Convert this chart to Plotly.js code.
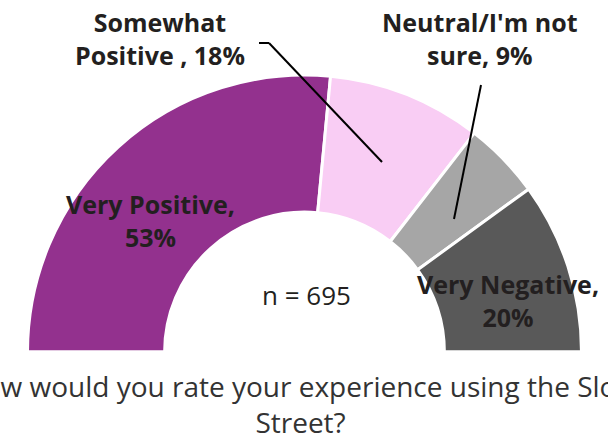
<!DOCTYPE html>
<html><head><meta charset="utf-8">
<script src="https://cdn.plot.ly/plotly-3.0.1.min.js"></script>
<style>html,body{margin:0;padding:0;overflow:hidden;background:#fff;width:608px;height:437px}</style>
</head><body><div id="chart" style="width:608px;height:640px"></div>
<script>
const categories = ["Very Positive", "Somewhat Positive ", "Neutral/I'm not sure", "Very Negative"];
const values = [53, 18, 9, 20];
const labelTexts = ["Very Positive,<br>53%", "Somewhat<br>Positive , 18%", "Neutral/I'm not<br>sure, 9%", "Very Negative,<br>20%"];
const colors = ["#93318e", "#f9cdf4", "#a6a6a6", "#595959"];
const sampleText = "n = 695";
const titleText = "How would you rate your experience using the Slow<br>Street?";

const W = 608, H = 640;
const px = x => x / W, py = y => 1 - y / H;
const total = values.reduce((a, b) => a + b, 0);

const trace = {
  type: 'pie',
  labels: categories.concat(['hidden']),
  values: values.concat([total]),
  sort: false,
  direction: 'clockwise',
  rotation: 270,
  hole: 0.505,
  textinfo: 'none',
  hoverinfo: 'none',
  marker: { colors: colors.concat(['rgba(0,0,0,0)']), line: { color: '#ffffff', width: 3 } },
  domain: { x: [px(304.5 - 277), px(304.5 + 277)], y: [py(352 + 277), py(352 - 277)] },
  showlegend: false
};

const lblFont = { family: 'Open Sans, sans-serif', size: 25, color: '#231f20', weight: 700 };
const labelPos = [[150, 220], [160, 39], [480, 39], [508, 300]];
const annotations = labelTexts.map((t, i) => ({
  text: '<b>' + t + '</b>', x: px(labelPos[i][0]), y: py(labelPos[i][1]), xref: 'paper', yref: 'paper',
  showarrow: false, xanchor: 'center', yanchor: 'middle', align: 'center', font: lblFont
}));
annotations.push({ text: sampleText, x: px(306), y: py(295), xref: 'paper', yref: 'paper', showarrow: false,
  xanchor: 'center', yanchor: 'middle', font: { family: 'Open Sans, sans-serif', size: 26, color: '#231f20' } });
annotations.push({ text: titleText, x: px(300), y: py(404), xref: 'paper', yref: 'paper', showarrow: false,
  xanchor: 'center', yanchor: 'middle', align: 'center', font: { family: 'Open Sans, sans-serif', size: 28, color: '#333333' } });

const ln = (x0, y0, x1, y1) => ({ type: 'line', xref: 'paper', yref: 'paper', x0: px(x0), y0: py(y0), x1: px(x1), y1: py(y1), line: { color: '#000', width: 2 } });
const shapes = [ln(259, 43, 269, 43), ln(269, 43, 382, 162), ln(481, 85, 454, 219)];

Plotly.newPlot('chart', [trace], {
  width: W, height: H, margin: { l: 0, r: 0, t: 0, b: 0 },
  paper_bgcolor: '#fff', plot_bgcolor: '#fff',
  annotations: annotations, shapes: shapes
}, { displayModeBar: false, staticPlot: true });
</script></body></html>
